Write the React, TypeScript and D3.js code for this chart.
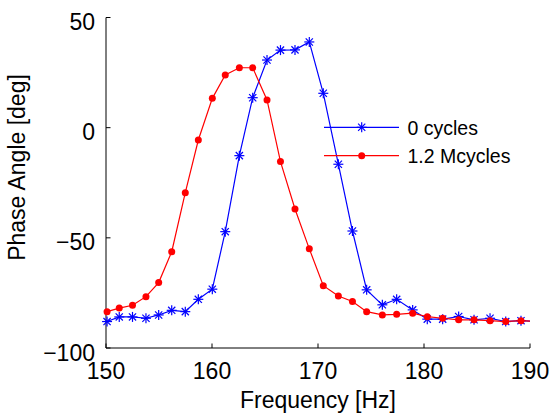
import React from "react";
import * as d3 from "d3";

const freqs = [150.1, 151.25, 152.5, 153.77, 154.97, 156.2, 157.48, 158.71, 160.03, 161.25, 162.58, 163.84, 165.19, 166.46, 167.83, 169.18, 170.5, 171.92, 173.25, 174.59, 176.07, 177.42, 178.93, 180.31, 181.76, 183.27, 184.72, 186.23, 187.71, 189.15, 190.6];
const cycles0 = [-88.0, -85.9, -85.9, -86.5, -85.0, -82.9, -83.5, -77.9, -73.3, -47.2, -12.7, 13.6, 30.7, 35.2, 35.3, 38.9, 15.6, -16.6, -46.9, -73.6, -80.4, -77.9, -82.7, -86.9, -86.9, -85.7, -87.2, -86.5, -88.0, -87.6, -88.0];
const cycles12M = [-83.5, -81.9, -80.6, -76.7, -70.3, -56.3, -29.5, -5.6, 13.3, 23.9, 27.2, 27.2, 12.6, -15.4, -36.9, -55.0, -71.7, -76.4, -78.9, -83.5, -85.0, -84.7, -84.2, -85.8, -86.5, -87.2, -87.2, -87.6, -88.0, -87.6, -88.0];
const xTicks = [150, 160, 170, 180, 190];
const yTicks = [-100, -50, 0, 50];
const seriesNames = ["0 cycles", "1.2 Mcycles"];

const W = 553, H = 414;
const L = 106, R = 530, T = 17.5, B = 348;
const FONT = "'Liberation Sans', Arial, sans-serif";

function Star({ x, y, color }: { x: number; y: number; color: string }) {
  const s = 5, d = 3.6;
  return (
    <g stroke={color} strokeWidth={1.2}>
      <line x1={x - s} y1={y} x2={x + s} y2={y} />
      <line x1={x} y1={y - s} x2={x} y2={y + s} />
      <line x1={x - d} y1={y - d} x2={x + d} y2={y + d} />
      <line x1={x - d} y1={y + d} x2={x + d} y2={y - d} />
    </g>
  );
}

export default function App() {
  const x = d3.scaleLinear().domain([150, 190]).range([L, R]);
  const y = d3.scaleLinear().domain([-100, 50]).range([B, T]);
  const line = d3.line<number>().x((_, i) => x(freqs[i])).y((v) => y(v));
  const inX = (f: number) => f >= 150 && f <= 190;
  const blue = "#0000ff", red = "#ff0000";

  return (
    <svg width={W} height={H} style={{ position: "absolute", left: 0, top: 0, background: "#fff" }}>
      <defs>
        <clipPath id="plotClip">
          <rect x={L} y={T} width={R - L} height={B - T} />
        </clipPath>
      </defs>
      <rect x={0} y={0} width={W} height={H} fill="#fff" />
      {/* axes */}
      <g stroke="#000" strokeWidth={1} fill="none">
        <line x1={L} y1={T} x2={L} y2={B} />
        <line x1={L} y1={B} x2={R} y2={B} />
        {xTicks.map((t) => (
          <line key={"xt" + t} x1={x(t)} y1={B} x2={x(t)} y2={B - 4.5} />
        ))}
        {yTicks.map((t) => (
          <line key={"yt" + t} x1={L} y1={y(t)} x2={L + 4.5} y2={y(t)} />
        ))}
      </g>
      <g fontFamily={FONT} fontSize={23} fill="#000">
        {xTicks.map((t) => (
          <text key={"xl" + t} x={x(t)} y={379.3} textAnchor="middle">{t}</text>
        ))}
        {yTicks.map((t) => (
          <text key={"yl" + t} x={95} y={y(t) + 12.5} textAnchor="end">{t < 0 ? "\u2212" + Math.abs(t) : t}</text>
        ))}
        <text x={(L + R) / 2} y={408} textAnchor="middle">Frequency [Hz]</text>
        <text transform={`translate(25,167.5) rotate(-90)`} textAnchor="middle">Phase Angle [deg]</text>
      </g>
      {/* series */}
      <g clipPath="url(#plotClip)" fill="none" strokeWidth={1.2}>
        <path d={line(cycles0) || ""} stroke={blue} />
      </g>
      {cycles0.map((v, i) => inX(freqs[i]) ? <Star key={"b" + i} x={x(freqs[i])} y={y(v)} color={blue} /> : null)}
      <g clipPath="url(#plotClip)" fill="none" strokeWidth={1.2}>
        <path d={line(cycles12M) || ""} stroke={red} />
      </g>
      {cycles12M.map((v, i) => inX(freqs[i]) ? <circle key={"r" + i} cx={x(freqs[i])} cy={y(v)} r={3.5} fill={red} /> : null)}
      {/* legend */}
      <g>
        <line x1={324} y1={127.3} x2={399} y2={127.3} stroke={blue} strokeWidth={1.2} />
        <Star x={361.7} y={127.3} color={blue} />
        <line x1={324} y1={155.7} x2={399} y2={155.7} stroke={red} strokeWidth={1.2} />
        <circle cx={361.7} cy={155.7} r={3.5} fill={red} />
        <text x={407.5} y={134.5} fontFamily={FONT} fontSize={19.5} fill="#000">{seriesNames[0]}</text>
        <text x={407.5} y={162.9} fontFamily={FONT} fontSize={19.5} fill="#000">{seriesNames[1]}</text>
      </g>
    </svg>
  );
}
